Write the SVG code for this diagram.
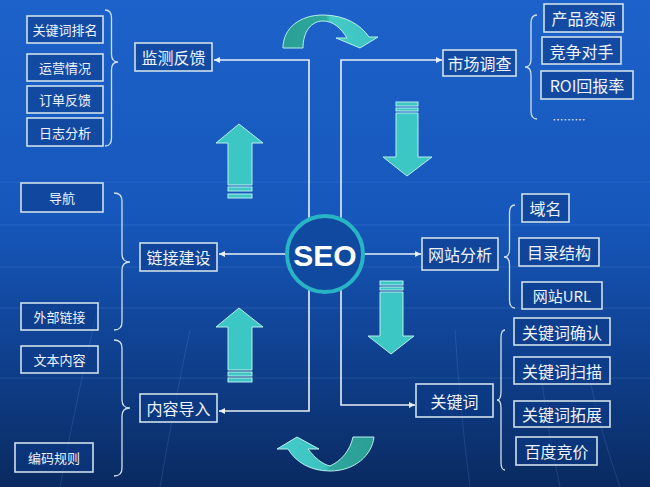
<svg xmlns="http://www.w3.org/2000/svg" width="650" height="487" viewBox="0 0 650 487">
<defs>
  <linearGradient id="bg" x1="0" y1="0" x2="0" y2="1">
    <stop offset="0" stop-color="#1d62ca"/>
    <stop offset="0.45" stop-color="#1657bb"/>
    <stop offset="0.75" stop-color="#0f3f8c"/>
    <stop offset="1" stop-color="#0a2a60"/>
  </linearGradient>
  <linearGradient id="curveTop" x1="0" y1="0" x2="1" y2="0">
    <stop offset="0" stop-color="#2a9e95"/>
    <stop offset="0.45" stop-color="#2fa89e"/>
    <stop offset="0.5" stop-color="#44cbc6"/>
    <stop offset="1" stop-color="#3cc3c3"/>
  </linearGradient>
  <linearGradient id="curveBot" x1="0" y1="0" x2="1" y2="0">
    <stop offset="0" stop-color="#44cccb"/>
    <stop offset="0.5" stop-color="#3cc3c0"/>
    <stop offset="0.55" stop-color="#2ea79c"/>
    <stop offset="1" stop-color="#2a9e95"/>
  </linearGradient>
  <marker id="ah" markerWidth="7" markerHeight="7" refX="6" refY="3" orient="auto" markerUnits="userSpaceOnUse">
    <path d="M0,0 L6,3 L0,6 z" fill="#e8f0f6"/>
  </marker>
  <style>
    .box{fill:#0d3b86;fill-opacity:0.55;stroke:#cfe0ea;stroke-width:1.6}
    .t{fill:#eef3fa;font-family:"Noto Sans CJK SC","Liberation Sans",sans-serif;text-anchor:middle;dominant-baseline:central}
    .s13{font-size:13px}
    .s16{font-size:16px}
    .brace{fill:none;stroke:#cfe0ea;stroke-width:1.3}
    .conn{fill:none;stroke:#e8f0f6;stroke-width:1.6}
    .ta{fill:#3cc6c4;stroke:#b8f0ec;stroke-width:1}
    .grid{stroke:#6fa8ee;stroke-opacity:0.18;stroke-width:1;fill:none}
  </style>
</defs>
<rect x="0" y="0" width="650" height="487" fill="url(#bg)"/>
<g id="background-grid">
  <path class="grid" d="M0 182 H650 M0 225 H650 M0 267 H650 M0 308 H650 M0 378 H650"/>
  <path class="grid" d="M60 487 Q80 380 100 300 M160 487 Q175 400 190 330 M470 487 Q460 410 455 330 M560 487 Q545 420 540 360 M620 487 Q600 430 590 380"/>
</g>

<g id="connectors">
  <path class="conn" d="M309 220 V60 H214" marker-end="url(#ah)"/>
  <path class="conn" d="M341 220 V60 H442" marker-end="url(#ah)"/>
  <path class="conn" d="M309 290 V411 H219" marker-end="url(#ah)"/>
  <path class="conn" d="M341 290 V405 H415" marker-end="url(#ah)"/>
  <path class="conn" d="M287 254 H219" marker-end="url(#ah)"/>
  <path class="conn" d="M363 254 H421" marker-end="url(#ah)"/>
</g>

<g id="braces">
  <path class="brace" d="M105 10 Q111.5 10 111.5 18 L111.5 54 Q111.5 62 118 62 Q111.5 62 111.5 70 L111.5 138 Q111.5 146 105 146"/>
  <path class="brace" d="M114 193 Q122 193 122 201 L122 254 Q122 262 130 262 Q122 262 122 270 L122 322 Q122 330 114 330"/>
  <path class="brace" d="M114 340 Q122 340 122 348 L122 400 Q122 408 130 408 Q122 408 122 416 L122 468 Q122 476 114 476"/>
  <path class="brace" d="M537 15 Q531 15 531 23 L531 59 Q531 67 525 67 Q531 67 531 75 L531 111 Q531 119 537 119"/>
  <path class="brace" d="M515 205 Q509.5 205 509.5 213 L509.5 249 Q509.5 257 504 257 Q509.5 257 509.5 265 L509.5 300 Q509.5 308 515 308"/>
  <path class="brace" d="M505 330 Q501 330 501 338 L501 392 Q501 400 497 400 Q501 400 501 408 L501 462 Q501 470 505 470"/>
</g>

<g id="flow-arrows">
  <path class="ta" d="M283 48 C283 28 300 15 323 15 C345 15 361 25 369 37 L378 37 L360 48 L336 38 L347 38 C341 28 333 21 323 21 C311 21 303 32 303 48 Z" fill="url(#curveTop)" style="fill:url(#curveTop)"/>
  <path class="ta" d="M277 449 L297 437 L319 449 L308 449 C315 458 322 464 330 466 C341 461 350 451 353 437 L374 437 C372 455 355 471 330 471 C310 471 296 462 288 449 Z" style="fill:url(#curveBot)"/>
  <polygon class="ta" points="239,124 263,143 252,143 252,185 228,185 228,143 216,143"/>
  <rect class="ta" x="228" y="187" width="24" height="4"/>
  <rect class="ta" x="228" y="194" width="24" height="4"/>
  <polygon class="ta" points="239,308 263,327 252,327 252,370 228,370 228,327 216,327"/>
  <rect class="ta" x="228" y="372" width="24" height="4"/>
  <rect class="ta" x="228" y="378" width="24" height="4"/>
  <rect class="ta" x="396" y="102" width="22" height="4"/>
  <rect class="ta" x="396" y="108" width="22" height="3"/>
  <polygon class="ta" points="396,113 418,113 418,157 432,157 407,176 383,157 396,157"/>
  <rect class="ta" x="380" y="281" width="23" height="4"/>
  <rect class="ta" x="380" y="287" width="23" height="3"/>
  <polygon class="ta" points="380,292 403,292 403,336 414,336 391,354 368,336 380,336"/>
</g>

<g id="seo">
  <circle cx="325" cy="254" r="38" fill="#0f4aa0" stroke="#29b4c6" stroke-width="4"/>
  <text x="325" y="255" fill="#ffffff" font-family="Liberation Sans, Arial, sans-serif" font-weight="bold" font-size="30" text-anchor="middle" dominant-baseline="central">SEO</text>
</g>

<g id="kw-rank"><rect class="box" x="27" y="16" width="76" height="27"/><text class="t s13" x="65" y="29.5">关键词排名</text></g>
<g id="yunying"><rect class="box" x="27" y="54" width="76" height="27"/><text class="t s13" x="65" y="67.5">运营情况</text></g>
<g id="dingdan"><rect class="box" x="27" y="86" width="76" height="27"/><text class="t s13" x="65" y="99.5">订单反馈</text></g>
<g id="rizhi"><rect class="box" x="27" y="118" width="76" height="28"/><text class="t s13" x="65" y="132">日志分析</text></g>
<g id="jiance"><rect class="box" x="135" y="43" width="77" height="28"/><text class="t s16" x="173.5" y="57">监测反馈</text></g>

<g id="shichang"><rect class="box" x="443" y="50" width="73" height="26"/><text class="t s16" x="479.5" y="63">市场调查</text></g>
<g id="chanpin"><rect class="box" x="544" y="4" width="79" height="28"/><text class="t s16" x="583.5" y="18">产品资源</text></g>
<g id="jingzheng"><rect class="box" x="542" y="37" width="79" height="27"/><text class="t s16" x="581.5" y="50.5">竞争对手</text></g>
<g id="roi"><rect class="box" x="541" y="71" width="92" height="28"/><text class="t s16" x="587" y="85">ROI回报率</text></g>
<text class="t" x="569" y="119" font-size="11">………</text>

<g id="daohang"><rect class="box" x="21" y="183" width="82" height="29"/><text class="t s13" x="62" y="197.5">导航</text></g>
<g id="lianjie"><rect class="box" x="140" y="243" width="77" height="28"/><text class="t s16" x="178.5" y="257">链接建设</text></g>
<g id="waibu"><rect class="box" x="21" y="303" width="77" height="27"/><text class="t s13" x="59.5" y="316.5">外部链接</text></g>
<g id="wenben"><rect class="box" x="21" y="346" width="77" height="27"/><text class="t s13" x="59.5" y="359.5">文本内容</text></g>
<g id="neirong"><rect class="box" x="140" y="394" width="77" height="28"/><text class="t s16" x="178.5" y="408">内容导入</text></g>
<g id="bianma"><rect class="box" x="15" y="443" width="78" height="29"/><text class="t s13" x="54" y="457.5">编码规则</text></g>

<g id="wangzhan"><rect class="box" x="422" y="238" width="76" height="32"/><text class="t s16" x="460" y="254">网站分析</text></g>
<g id="yuming"><rect class="box" x="522" y="194" width="47" height="28"/><text class="t s16" x="545.5" y="208">域名</text></g>
<g id="mulu"><rect class="box" x="519" y="238" width="80" height="28"/><text class="t s16" x="559" y="252">目录结构</text></g>
<g id="url"><rect class="box" x="522" y="282" width="80" height="27"/><text class="t" x="562" y="295.5" font-size="15">网站URL</text></g>

<g id="guanjianci"><rect class="box" x="416" y="384" width="77" height="33"/><text class="t s16" x="454.5" y="400.5">关键词</text></g>
<g id="queren"><rect class="box" x="514" y="318" width="96" height="27"/><text class="t s16" x="562" y="331.5">关键词确认</text></g>
<g id="saomiao"><rect class="box" x="514" y="357" width="96" height="27"/><text class="t s16" x="562" y="370.5">关键词扫描</text></g>
<g id="tuozhan"><rect class="box" x="514" y="401" width="96" height="26"/><text class="t s16" x="562" y="414">关键词拓展</text></g>
<g id="baidu"><rect class="box" x="516" y="437" width="81" height="28"/><text class="t s16" x="556.5" y="451">百度竞价</text></g>
</svg>
